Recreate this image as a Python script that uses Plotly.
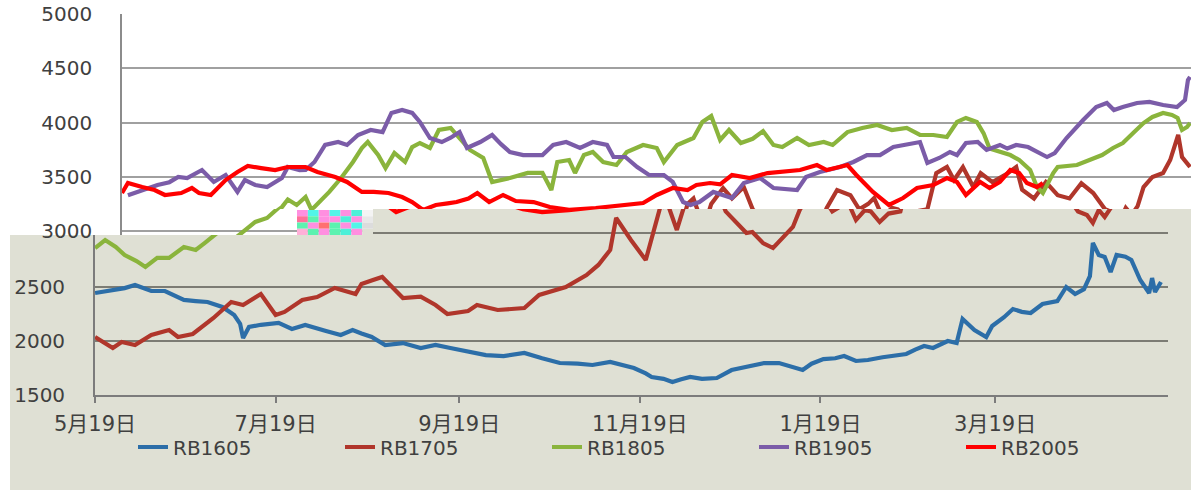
import plotly.graph_objects as go
import pandas as pd

# ---------------- data (x = days after 5月19日) ----------------
series_names = ["RB1605", "RB1705", "RB1805", "RB1905", "RB2005"]
series_colors = ["#2c6ea8", "#b0362b", "#8ab43c", "#7b5ca8", "#ff0000"]

days_1605 = [0, 5, 10, 13.5, 16, 19, 23.6, 27, 30, 34, 38, 43, 47, 49, 50, 52, 56, 62, 66.5, 71, 74, 78, 83, 87, 90,
             93.5, 98, 104, 110, 115, 120, 126, 132, 138, 145, 151, 157, 163, 168, 174, 178, 182, 186, 188, 192, 195,
             198, 201, 205, 210, 215, 220, 226, 231, 235, 239, 242, 246, 250, 253, 257, 261, 266, 270, 274, 277, 280,
             283, 288, 291, 293, 297, 301, 303, 307, 310, 313, 316, 320, 325, 328, 331, 334, 336, 337, 339, 341, 343,
             345, 348, 350, 353, 356, 357, 358, 360]
vals_1605 = [2444, 2470, 2490, 2519, 2495, 2463, 2463, 2420, 2380, 2370, 2361, 2315, 2241, 2160, 2028, 2130, 2150, 2167,
             2111, 2148, 2120, 2093, 2056, 2102, 2070, 2037, 1963, 1981, 1935, 1963, 1935, 1900, 1870, 1860, 1889, 1840,
             1796, 1790, 1778, 1806, 1775, 1750, 1700, 1667, 1650, 1620, 1645, 1667, 1650, 1657, 1731, 1760, 1796, 1796,
             1759, 1731, 1790, 1833, 1840, 1861, 1815, 1824, 1850, 1865, 1880, 1920, 1954, 1935, 2000, 1981, 2204, 2102,
             2037, 2139, 2220, 2296, 2270, 2259, 2343, 2370, 2500, 2435, 2480, 2600, 2907, 2796, 2778, 2639, 2796, 2780,
             2750, 2565, 2444, 2583, 2454, 2546]

days_1705 = [0, 6, 9, 13.5, 19, 25, 28, 33, 40, 46, 50, 56, 61, 64, 70, 75, 81, 88, 90, 97, 104, 110, 115, 119, 126,
             129, 136, 145, 150, 159, 166, 170, 174, 176, 181, 186, 188.5, 191, 193, 196.5, 199, 203, 206, 210, 213,
             217, 220, 222, 225.6, 229, 232, 235.7, 238, 241.5, 246, 249, 252, 254, 257, 260, 262, 265, 268, 272, 275,
             278.6, 281, 284, 287.5, 290, 294, 299, 302, 304, 308, 312, 316, 320, 324, 328, 332, 335, 337, 339, 341,
             343, 345, 348, 351.6, 354, 356.7, 358, 360.7]
vals_1705 = [2037, 1935, 1991, 1963, 2056, 2102, 2037, 2065, 2213, 2361, 2333, 2435, 2241, 2269, 2380, 2407, 2491, 2435,
             2528, 2593, 2398, 2410, 2333, 2250, 2278, 2333, 2287, 2305, 2426, 2500, 2611, 2704, 2843, 3139, 2935, 2750,
             3000, 3250, 3300, 3028, 3250, 3396, 3300, 3405, 3200, 3093, 3000, 3009, 2907, 2861, 2954, 3056, 3213, 3378,
             3330, 3200, 3250, 3304, 3120, 3213, 3200, 3102, 3180, 3200, 3534, 3590, 3470, 3590, 3405, 3534, 3450, 3530,
             3590, 3380, 3300, 3450, 3330, 3300, 3440, 3350, 3200, 3167, 3093, 3213, 3148, 3230, 3405, 3498, 3534, 3654,
             3885, 3682, 3590]

days_1805 = [0, 3.4, 7, 10, 14, 17, 21, 25, 30, 34, 37, 40, 45, 49, 54, 56, 59, 62, 64, 70, 74, 78, 81, 83, 86.5, 89,
             92, 95.6, 98, 100.6, 104, 107, 111, 114, 117.5, 122, 125, 131, 137, 142, 145, 147, 151, 153, 156, 159,
             162.5, 167, 170.5, 176, 180.6, 183, 187.5, 193, 196, 199, 202, 205, 209, 213, 216.5, 220, 223, 228, 232,
             237, 240, 245, 250, 255, 260, 265, 269.5, 274, 278.6, 282, 285, 288.7, 291, 293, 296.5, 300, 303, 306.7,
             309, 311, 314.5, 316, 322.5, 327, 331, 334.7, 338, 341.5, 345, 348, 351.6, 354.6, 356.5, 358, 359.7, 360.7]
vals_1805 = [2861, 2935, 2870, 2796, 2740, 2685, 2769, 2769, 2870, 2843, 2907, 2975, 3083, 3120, 3220, 3290, 3240, 3313,
             3194, 3360, 3488, 3636, 3765, 3820, 3700, 3580, 3719, 3636, 3774, 3811, 3765, 3931, 3950, 3857, 3747, 3673,
             3452, 3488, 3535, 3535, 3378, 3636, 3654, 3535, 3700, 3728, 3636, 3608, 3728, 3793, 3765, 3636, 3793, 3857,
             4005, 4060, 3839, 3931, 3811, 3850, 3920, 3793, 3774, 3857, 3793, 3820, 3793, 3912, 3950, 3977, 3931, 3950,
             3885, 3885, 3866, 4005, 4042, 4005, 3900, 3760, 3728, 3700, 3654, 3562, 3405, 3350, 3534, 3590, 3608, 3654,
             3700, 3765, 3811, 3903, 3995, 4051, 4088, 4069, 4042, 3931, 3959, 3995]

days_1905 = [2, 6.8, 12, 16, 19, 22, 27, 31, 35, 39, 41.5, 45, 49, 54, 56, 60, 62, 65, 68.6, 73, 76, 79.7, 84, 88, 91,
             94.6, 98, 100.6, 104, 108, 111, 114, 116.5, 121, 125, 128, 131, 135.5, 142, 145.6, 150, 154.7, 159, 163.8,
             166, 170, 174, 178, 183, 186, 189.5, 192, 195, 199.7, 203, 206, 210, 215.5, 220, 228, 231, 235.7, 242.5,
             247, 251.6, 256, 260.5, 265, 269.5, 272, 276, 279.6, 282, 285, 289, 292, 296.5, 299, 302, 306, 310, 312.4,
             315, 319, 324.6, 329, 332.6, 335, 338, 342.8, 347, 351.6, 356.3, 359, 360, 360.7]
vals_1905 = [3330, 3378, 3424, 3450, 3498, 3488, 3562, 3452, 3516, 3360, 3470, 3424, 3405, 3488, 3590, 3560, 3562, 3636,
             3793, 3820, 3793, 3885, 3931, 3912, 4088, 4115, 4088, 4005, 3857, 3820, 3860, 3912, 3765, 3820, 3885, 3800,
             3728, 3700, 3700, 3793, 3820, 3765, 3820, 3793, 3682, 3682, 3590, 3516, 3516, 3452, 3267, 3240, 3267, 3360,
             3332, 3304, 3442, 3488, 3396, 3378, 3498, 3544, 3590, 3636, 3700, 3700, 3774, 3793, 3820, 3627, 3673, 3728,
             3700, 3811, 3820, 3747, 3793, 3760, 3793, 3774, 3719, 3682, 3719, 3857, 4023, 4143, 4180, 4115, 4143, 4180,
             4189, 4161, 4143, 4207, 4392, 4420]

days_2005 = [0, 2, 6.8, 11, 14.5, 20, 23.6, 26, 30, 35, 39, 42.5, 47, 51.7, 56, 62, 66, 72, 76, 81, 85, 90, 94.6, 98,
             101.7, 106, 110, 113, 117, 120, 124, 128.7, 133, 139, 144.5, 151, 160, 169, 176, 180.6, 186, 191, 194,
             198.6, 202, 206, 212, 218, 223, 229, 234.7, 238, 245, 248, 253.6, 259, 263.8, 268.5, 274, 278.6, 282, 285,
             289.8, 293, 296.5, 298, 300, 303, 305.6, 309, 311]
vals_2005 = [3350, 3442, 3405, 3378, 3332, 3350, 3396, 3350, 3332, 3470, 3544, 3599, 3580, 3562, 3590, 3590, 3544, 3498,
             3452, 3360, 3360, 3350, 3313, 3267, 3194, 3240, 3255, 3267, 3300, 3350, 3267, 3332, 3276, 3267, 3221, 3194,
             3212, 3240, 3258, 3332, 3396, 3378, 3424, 3442, 3430, 3516, 3488, 3534, 3544, 3562, 3608, 3562, 3608, 3516,
             3360, 3240, 3304, 3396, 3424, 3488, 3452, 3332, 3452, 3396, 3452, 3498, 3562, 3534, 3442, 3405, 3442]

tick_dates = ["2021-05-19", "2021-07-19", "2021-09-19", "2021-11-19", "2022-01-19", "2022-03-19"]
tick_labels = ["5月19日", "7月19日", "9月19日", "11月19日", "1月19日", "3月19日"]
y_ticks_top = [3000, 3500, 4000, 4500, 5000]
y_ticks_bottom = [1500, 2000, 2500, 3000]

all_days = [days_1605, days_1705, days_1805, days_1905, days_2005]
all_vals = [vals_1605, vals_1705, vals_1805, vals_1905, vals_2005]

# ---------------- layout geometry (pixels of the 1191x490 page) ----------------
W, H = 1191, 490
START = pd.Timestamp("2021-05-19")
PX_PER_DAY = 2.961


def to_date(d):
    return (START + pd.Timedelta(days=d)).strftime("%Y-%m-%d %H:%M:%S")


def px_x(p):
    return p / W


def px_y(p):
    return 1 - p / H


def top_val(y):      # upper (white) chart: 3000 at y=231, 5000 at y=14
    return 3000 + (231 - y) * 2000 / 217


def bot_val(y):      # lower (grey) chart: 1500 at y=395, 2500 at y=287
    return 1500 + (395 - y) * 1000 / 108


TOP_X0, BOT_X0, STEP_X, BOT_X1 = 122, 95, 373, 1168
FONT = "DejaVu Sans, Noto Sans CJK SC, sans-serif"
TXT = "#404040"
GRID_TOP = "#a0a0a0"
GRID_BOT = "#7c7c74"
BG_GREY = "#dfe0d4"

fig = go.Figure()
subplots = ["", "2", "3", "4"]
for name, color, dd, vv in zip(series_names, series_colors, all_days, all_vals):
    xs = [to_date(d) for d in dd]
    for s in subplots:
        fig.add_trace(go.Scatter(
            x=xs, y=vv, mode="lines", name=name, legendgroup=name,
            showlegend=(s == "3"), line=dict(color=color, width=4.2),
            xaxis="x" + s, yaxis="y" + s, hoverinfo="skip"))

hidden_x = dict(showgrid=False, showticklabels=False, showline=False, zeroline=False, type="date",
                automargin=False)
tick_font = dict(family=FONT, size=20, color=TXT)
xlab_font = dict(family=FONT, size=21, color=TXT)

fig.update_layout(
    width=W, height=H, margin=dict(l=0, r=0, t=0, b=0, pad=0, autoexpand=False),
    paper_bgcolor="white", plot_bgcolor="rgba(0,0,0,0)",
    font=dict(family=FONT, color=TXT),
    # upper white chart
    xaxis=dict(hidden_x, domain=[px_x(TOP_X0), 1],
               range=[to_date(0), to_date((W - TOP_X0) / PX_PER_DAY)], anchor="y"),
    yaxis=dict(domain=[px_y(209), px_y(14)], range=[top_val(209), top_val(14)],
               tickvals=y_ticks_top, showgrid=True, gridcolor=GRID_TOP, gridwidth=1.6,
               showline=True, linecolor="#8c8c8c", linewidth=1.6, zeroline=False, automargin=False,
               tickfont=tick_font, ticklabelstandoff=24, anchor="x"),
    # white strip of the upper chart, left of the step
    xaxis2=dict(hidden_x, domain=[px_x(TOP_X0), px_x(STEP_X)],
                range=[to_date(0), to_date((STEP_X - TOP_X0) / PX_PER_DAY)], anchor="y2"),
    yaxis2=dict(domain=[px_y(235), px_y(209)], range=[top_val(235), top_val(209)],
                tickvals=y_ticks_top, showgrid=True, gridcolor=GRID_TOP, gridwidth=1.6,
                showline=True, linecolor="#8c8c8c", linewidth=1.6, zeroline=False, automargin=False,
                tickfont=tick_font, ticklabelstandoff=24, anchor="x2"),
    # lower grey chart, left part
    xaxis3=dict(type="date", domain=[px_x(BOT_X0), px_x(STEP_X)],
                range=[to_date(-0.02), to_date((STEP_X - BOT_X0) / PX_PER_DAY)],
                tickvals=tick_dates, ticktext=tick_labels, showgrid=False, zeroline=False,
                showline=True, linecolor="#7c7c7c", linewidth=1.8, automargin=False,
                ticks="outside", ticklen=6, tickwidth=1.8, tickcolor="#7c7c7c",
                tickfont=xlab_font, ticklabelstandoff=3, anchor="y3"),
    yaxis3=dict(domain=[px_y(395), px_y(235)], range=[1500, bot_val(235)],
                tickvals=y_ticks_bottom, showgrid=True, gridcolor=GRID_BOT, gridwidth=1.6,
                showline=True, linecolor="#7c7c7c", linewidth=1.8, zeroline=False, automargin=False,
                tickfont=tick_font, ticklabelstandoff=24, anchor="x3"),
    # lower grey chart, right part
    xaxis4=dict(type="date", domain=[px_x(STEP_X), px_x(BOT_X1)],
                range=[to_date((STEP_X - BOT_X0) / PX_PER_DAY), to_date((BOT_X1 - BOT_X0) / PX_PER_DAY)],
                tickvals=tick_dates, ticktext=tick_labels, showgrid=False, zeroline=False,
                showline=True, linecolor="#7c7c7c", linewidth=1.8, automargin=False,
                ticks="outside", ticklen=6, tickwidth=1.8, tickcolor="#7c7c7c",
                tickfont=xlab_font, ticklabelstandoff=3, anchor="y4"),
    yaxis4=dict(domain=[px_y(395), px_y(209)], range=[1500, bot_val(209)],
                tickvals=y_ticks_bottom, showgrid=True, gridcolor=GRID_BOT, gridwidth=1.6,
                showline=False, zeroline=False, showticklabels=False, automargin=False, anchor="x4"),
    legend=dict(orientation="h", x=px_x(133), y=px_y(447), xanchor="left", yanchor="middle",
                entrywidth=162, entrywidthmode="pixels", bgcolor="rgba(0,0,0,0)",
                font=dict(family=FONT, size=20, color=TXT), itemclick=False, itemdoubleclick=False),
)

# grey background of the lower chart (with the step of the pasted picture)
grey_path = "M {a},{b} L {c},{b} L {c},{d} L {e},{d} L {e},{f} L {a},{f} Z".format(
    a=px_x(10), b=px_y(235), c=px_x(STEP_X), d=px_y(209), e=1, f=0)
fig.add_shape(type="path", path=grey_path, xref="paper", yref="paper",
              fillcolor=BG_GREY, line=dict(width=0), layer="below")

# small corrupted-pixel patch seen in the picture
noise_colors = [
    ["#ff8fe0", "#52f5e8", "#ff8fe0", "#52f5e8", "#ff8fe0", "#4df0d8", "#f4f4f4"],
    ["#ff6f9a", "#5cf2b0", "#ff8fe0", "#ff8fe0", "#4df0d8", "#ff8fe0", "#e8e8e8"],
    ["#5cf2b0", "#ff8fe0", "#ff7070", "#5cf2b0", "#ff8fe0", "#52f5e8", "#dcdcdc"],
    ["#ffb0d8", "#5cf2b0", "#ff8fe0", "#5cf2b0", "#4df0d8", "#ff8fe0", "#dfe0d4"],
]
x0n, x1n, y0n, y1n = 297, 373, 210, 235
cw = (x1n - x0n) / len(noise_colors[0])
rh = (y1n - y0n) / len(noise_colors)
for r, row in enumerate(noise_colors):
    for c, col in enumerate(row):
        fig.add_shape(type="rect", xref="paper", yref="paper",
                      x0=px_x(x0n + c * cw), x1=px_x(x0n + (c + 1) * cw),
                      y0=px_y(y0n + (r + 1) * rh), y1=px_y(y0n + r * rh),
                      fillcolor=col, line=dict(width=0), layer="above")

fig.write_html("out.html", config={"displayModeBar": False},
               post_script="document.body.style.margin='0px';")
